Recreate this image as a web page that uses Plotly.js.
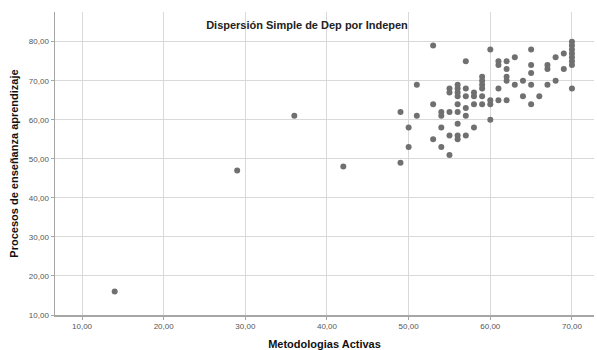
<!DOCTYPE html>
<html>
<head>
<meta charset="utf-8">
<script src="https://cdn.plot.ly/plotly-3.0.1.min.js"></script>
<style>html,body{margin:0;padding:0;background:#fff;}#chart{width:597px;height:350px;}</style>
</head>
<body>
<div id="chart"></div>
<script>
// Metodologias Activas (x) and Procesos de enseñanza aprendizaje (y)
const metodologias = [
  14, 29, 36, 42,
  49, 49,
  50, 50,
  51, 51,
  53, 53, 53,
  54, 54, 54, 54,
  55, 55, 55, 55, 55,
  56, 56, 56, 56, 56, 56, 56, 56, 56,
  57, 57, 57, 57, 57, 57,
  58, 58, 58, 58,
  59, 59, 59, 59, 59, 59,
  60, 60, 60, 60,
  61, 61, 61, 61,
  62, 62, 62, 62, 62,
  63, 63,
  64, 64,
  65, 65, 65, 65, 65,
  66,
  67, 67, 67,
  68, 68,
  69, 69,
  70, 70, 70, 70, 70, 70, 70, 70
];
const procesos = [
  16, 47, 61, 48,
  62, 49,
  58, 53,
  69, 61,
  79, 64, 55,
  62, 61, 58, 53,
  68, 67, 62, 56, 51,
  69, 68, 67, 66, 64, 62, 59, 56, 55,
  75, 68, 66, 63, 61, 56,
  67, 66, 64, 58,
  71, 70, 69, 68, 66, 64,
  78, 65, 64, 60,
  75, 74, 68, 65,
  75, 73, 71, 70, 65,
  76, 69,
  70, 66,
  78, 74, 72, 69, 64,
  66,
  74, 73, 69,
  76, 70,
  77, 73,
  80, 79, 78, 77, 76, 75, 74, 68
];
const xTickVals = [10, 20, 30, 40, 50, 60, 70];
const xTickText = ["10,00", "20,00", "30,00", "40,00", "50,00", "60,00", "70,00"];
const yTickVals = [10, 20, 30, 40, 50, 60, 70, 80];
const yTickText = ["10,00", "20,00", "30,00", "40,00", "50,00", "60,00", "70,00", "80,00"];

const trace = {
  x: metodologias,
  y: procesos,
  type: 'scatter',
  mode: 'markers',
  marker: {color: '#707070', size: 6, line: {width: 0}},
  hoverinfo: 'x+y'
};

const font = "Liberation Sans, Arial, sans-serif";
const layout = {
  width: 597,
  height: 350,
  margin: {l: 55, r: 3, t: 12, b: 35},
  paper_bgcolor: '#ffffff',
  plot_bgcolor: '#ffffff',
  showlegend: false,
  font: {family: font, color: '#222'},
  title: {
    text: 'Dispersión Simple de Dep por Indepen',
    font: {family: font, size: 11, color: '#222', weight: 'bold'},
    xref: 'paper', x: 0.4675, xanchor: 'center',
    yref: 'container', y: 0.9286, yanchor: 'middle'
  },
  xaxis: {
    range: [6.69, 72.7],
    tickvals: xTickVals,
    ticktext: xTickText,
    tickfont: {family: font, size: 8, color: '#555'},
    showgrid: true, gridcolor: '#d9d9d9', gridwidth: 1,
    zeroline: false,
    showline: true, linecolor: '#a6a6a6', linewidth: 1.5,
    ticks: 'outside', ticklen: 3, tickcolor: '#a6a6a6',
    title: {text: 'Metodologias Activas', font: {family: font, size: 11, color: '#111', weight: 'bold'}, standoff: 16},
    automargin: false
  },
  yaxis: {
    range: [10, 87.6],
    tickvals: yTickVals,
    ticktext: yTickText,
    tickfont: {family: font, size: 8, color: '#555'},
    showgrid: true, gridcolor: '#d9d9d9', gridwidth: 1,
    zeroline: false,
    showline: true, linecolor: '#a6a6a6', linewidth: 1.5,
    ticks: 'outside', ticklen: 3, tickcolor: '#a6a6a6',
    title: {text: 'Procesos de enseñanza aprendizaje', font: {family: font, size: 11, color: '#111', weight: 'bold'}, standoff: 8},
    automargin: false
  }
};

Plotly.newPlot('chart', [trace], layout, {displayModeBar: false, staticPlot: true});
</script>
</body>
</html>
